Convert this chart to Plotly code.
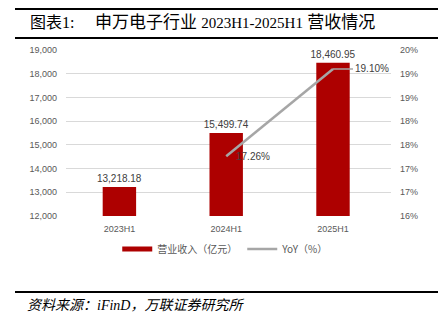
import plotly.graph_objects as go

categories = ["2023H1", "2024H1", "2025H1"]
revenue = [13218.18, 15499.74, 18460.95]
yoy_x = ["2024H1", "2025H1"]
yoy = [17.26, 19.10]

bar_name = "营业收入（亿元）"
line_name = "YoY（%）"
title_prefix = "图表1:"
title_parts = ["申万电子行业 ", "2023H1-2025H1", " 营收情况"]
source_text = "资料来源：iFinD，万联证券研究所"

W, H = 438, 323
L, R, T, B = 66, 391, 50, 216

def px_x(px):
    return (px - L) / (R - L)

def px_y(py):
    return (B - py) / (B - T)

GRAY = "#595959"
RED = "#AD0000"
LINE_GRAY = "#A6A6A6"
tick_font = dict(family="Liberation Sans, Noto Sans CJK SC", size=9, color=GRAY)
label_font = dict(family="Liberation Sans", size=10, color="#404040")

fig = go.Figure()
fig.add_trace(go.Bar(
    x=categories, y=revenue, name=bar_name, showlegend=False,
    marker=dict(color=RED, line=dict(width=0)),
    texttemplate="%{y:,.2f}", textposition="outside",
    textfont=label_font, constraintext="none",
    cliponaxis=False, yaxis="y",
))
# legend entry for the bars drawn as a thick swatch (Excel style)
fig.add_trace(go.Scatter(
    x=[None], y=[None], name=bar_name, mode="lines",
    line=dict(color=RED, width=5), yaxis="y", showlegend=True,
))
fig.add_trace(go.Scatter(
    x=yoy_x, y=yoy, name=line_name, mode="lines",
    line=dict(color=LINE_GRAY, width=2.5), yaxis="y2",
))

annotations = []
for i, (xc, v) in enumerate(zip(yoy_x, yoy)):
    if i == len(yoy) - 1:
        annotations.append(dict(x=xc, y=v, xref="x", yref="y2", text=f"{v:.2f}%",
                                showarrow=True, arrowhead=0, arrowwidth=1.5, arrowcolor=LINE_GRAY,
                                ax=20, ay=0, xanchor="left", yanchor="middle",
                                font=label_font))
    else:
        annotations.append(dict(x=xc, y=v, xref="x", yref="y2", text=f"{v:.2f}%",
                                showarrow=False, xanchor="left", yanchor="middle", xshift=8,
                                font=label_font))

title_font = dict(family="Liberation Serif, Noto Sans CJK SC", size=17, color="#000000")
title_html = (title_parts[0] + '<span style="font-size:15px">' + title_parts[1] + "</span>"
              + title_parts[2])
annotations.append(dict(x=px_x(28), y=px_y(23), xref="paper", yref="paper",
                        text='<span style="font-size:16px">' + title_prefix + "</span>",
                        showarrow=False, xanchor="left", yanchor="middle", font=title_font))
annotations.append(dict(x=px_x(93), y=px_y(23), xref="paper", yref="paper", text=title_html,
                        showarrow=False, xanchor="left", yanchor="middle", font=title_font))
annotations.append(dict(x=px_x(25), y=px_y(305), xref="paper", yref="paper", text="<i>" + source_text + "</i>",
                        showarrow=False, xanchor="left", yanchor="middle",
                        font=dict(family="Liberation Serif, Noto Sans CJK SC", size=14, color="#000000")))

shapes = [
    dict(type="line", xref="paper", yref="paper", x0=px_x(15), x1=px_x(438), y0=px_y(9), y1=px_y(9),
         line=dict(color="#000000", width=2)),
    dict(type="line", xref="paper", yref="paper", x0=px_x(15), x1=px_x(438), y0=px_y(38), y1=px_y(38),
         line=dict(color="#000000", width=2)),
    dict(type="line", xref="paper", yref="paper", x0=px_x(15), x1=px_x(438), y0=px_y(292), y1=px_y(292),
         line=dict(color="#000000", width=2)),
]

fig.update_layout(
    width=W, height=H,
    margin=dict(l=L, r=W - R, t=T, b=H - B, pad=0),
    paper_bgcolor="white", plot_bgcolor="white",
    bargap=0.687,
    showlegend=True,
    legend=dict(orientation="h", x=0.49, xanchor="center", y=px_y(249), yanchor="middle",
                font=dict(family="Noto Sans CJK SC", size=10, color=GRAY),
                tracegroupgap=0, bgcolor="rgba(0,0,0,0)"),
    xaxis=dict(type="category", categoryorder="array", categoryarray=categories,
               showgrid=False, showline=False, ticks="", tickfont=tick_font, ticklabelstandoff=6),
    yaxis=dict(range=[12000, 19000], dtick=1000, tick0=12000, tickformat=",",
               showgrid=True, gridcolor="#D9D9D9", gridwidth=1, zeroline=False, showline=False,
               ticks="", tickfont=tick_font, ticklabelstandoff=8),
    yaxis2=dict(range=[16, 19.5], dtick=0.5, tick0=16, tickformat=".0f", ticksuffix="%",
                overlaying="y", side="right", showgrid=False, zeroline=False, showline=False,
                ticks="", tickfont=tick_font, ticklabelstandoff=8),
    annotations=annotations,
    shapes=shapes,
)

fig.write_html("out.html")
